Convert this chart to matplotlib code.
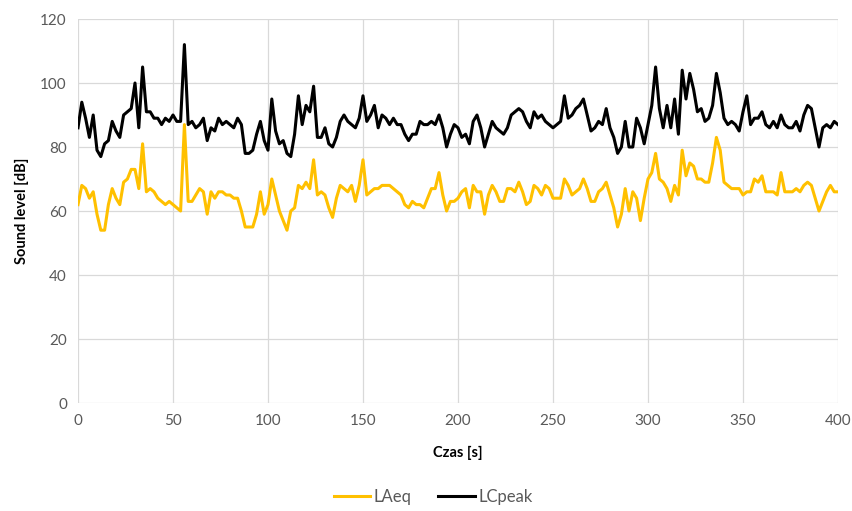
import numpy as np
import matplotlib
matplotlib.use("Agg")
import matplotlib.pyplot as plt

plt.rcParams['font.family'] = ['Lato', 'DejaVu Sans']

time_s = np.arange(0, 401, 2)

lcpeak = [
    86, 94, 89, 83, 90, 79, 77, 81, 82, 88, 85, 83, 90, 91, 92, 100, 86, 105, 91, 91, 89, 89, 87, 89, 88, 90,
    88, 88, 112, 87, 88, 86, 87, 89, 82, 86, 85, 89, 87, 88, 87, 86, 89, 87, 78, 78, 79, 84, 88, 82, 79,
    95, 85, 81, 82, 78, 77, 84, 96, 87, 93, 91, 99, 83, 83, 86, 81, 80, 83, 88, 90, 88, 87, 86, 89, 96,
    88, 90, 93, 86, 90, 89, 87, 89, 87, 87, 84, 82, 84, 84, 88, 87, 87, 88, 87, 90, 86, 80, 84, 87, 86,
    83, 84, 81, 88, 90, 86, 80, 84, 88, 86, 85, 84, 86, 90, 91, 92, 91, 88, 86, 91, 89, 90, 88, 87, 86,
    87, 88, 96, 89, 90, 92, 93, 95, 90, 85, 86, 88, 87, 92, 86, 83, 78, 80, 88, 80, 80, 89, 86, 81, 87,
    93, 105, 92, 86, 93, 86, 95, 84, 104, 95, 103, 98, 91, 92, 88, 89, 93, 103, 97, 89, 87, 88, 87, 85, 91,
    96, 87, 89, 89, 91, 87, 86, 88, 86, 90, 87, 86, 86, 88, 85, 90, 93, 92, 86, 80, 86, 87, 86, 88, 87,
]

laeq = [
    62, 68, 67, 64, 66, 59, 54, 54, 62, 67, 64, 62, 69, 70, 73, 73, 67, 81, 66, 67, 66, 64, 63, 62, 63, 62,
    61, 60, 87, 63, 63, 65, 67, 66, 59, 66, 64, 66, 66, 65, 65, 64, 64, 60, 55, 55, 55, 59, 66, 59, 62,
    70, 65, 60, 57, 54, 60, 61, 68, 67, 69, 67, 76, 65, 66, 65, 61, 58, 64, 68, 67, 66, 68, 63, 68, 76,
    65, 66, 67, 67, 68, 68, 68, 67, 66, 65, 62, 61, 63, 62, 62, 61, 64, 67, 67, 72, 65, 60, 63, 63, 64,
    66, 67, 61, 68, 66, 66, 59, 65, 68, 66, 63, 63, 67, 67, 66, 69, 66, 62, 63, 68, 67, 65, 68, 67, 64,
    64, 64, 70, 68, 65, 66, 67, 70, 67, 63, 63, 66, 67, 69, 65, 61, 55, 59, 67, 60, 66, 64, 57, 64, 70,
    72, 78, 70, 69, 67, 63, 68, 65, 79, 71, 75, 74, 70, 70, 69, 69, 75, 83, 79, 69, 68, 67, 67, 67, 65,
    66, 66, 70, 69, 71, 66, 66, 66, 65, 72, 66, 66, 66, 67, 66, 68, 69, 68, 64, 60, 63, 66, 68, 66, 66,
]

x_ticks = [0, 50, 100, 150, 200, 250, 300, 350, 400]
y_ticks = [0, 20, 40, 60, 80, 100, 120]

fig = plt.figure(figsize=(8.53, 5.11), dpi=100)
ax = fig.add_axes([78 / 853, 108 / 511, 760 / 853, 384 / 511])

ax.plot(time_s, laeq, color='#FFC000', lw=2.2, label='LAeq', solid_joinstyle='round')
ax.plot(time_s, lcpeak, color='#000000', lw=2.2, label='LCpeak', solid_joinstyle='round')

ax.set_xlim(0, 400)
ax.set_ylim(0, 120)
ax.set_xticks(x_ticks)
ax.set_yticks(y_ticks)
ax.grid(True, color='#D9D9D9', lw=0.9)
ax.set_axisbelow(True)
for s in ax.spines.values():
    s.set_visible(False)
ax.tick_params(length=0, labelsize=11, labelcolor='#595959', pad=8)

ax.set_xlabel('Czas [s]', fontsize=10.5, fontweight='bold', labelpad=13)
ax.set_ylabel('Sound level [dB]', fontsize=10.5, fontweight='bold', labelpad=8)

leg = fig.legend(loc='center', bbox_to_anchor=(433 / 853, 1 - 497 / 511), ncol=2,
                 frameon=False, fontsize=12, handlelength=2.2, handletextpad=0.2,
                 columnspacing=1.6)
for t in leg.get_texts():
    t.set_color('#595959')

fig.savefig('out.png', dpi=100)
